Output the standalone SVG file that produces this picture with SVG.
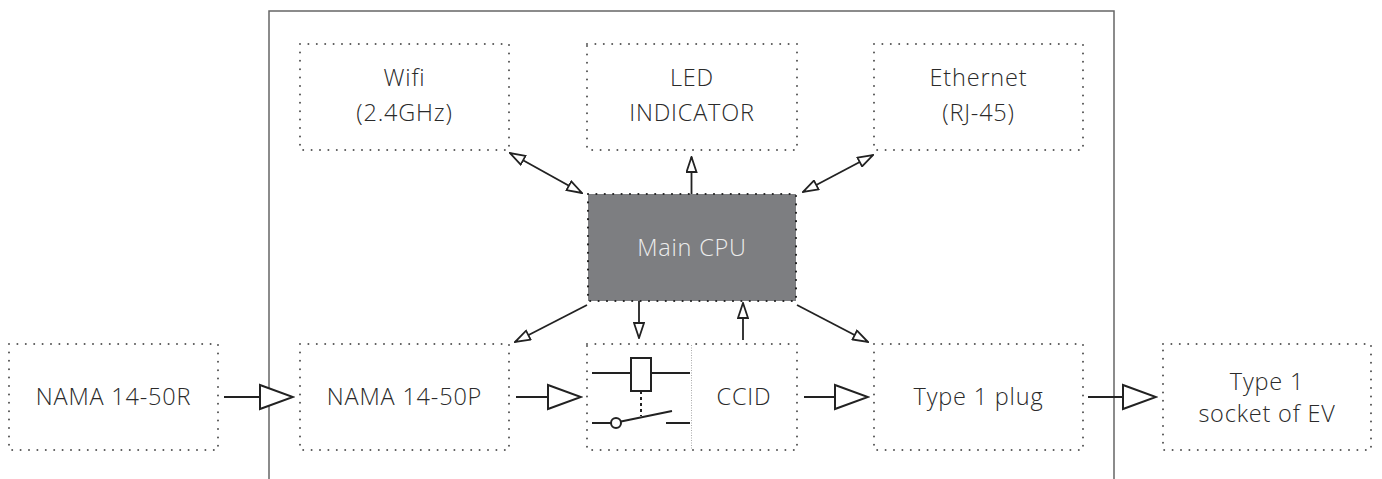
<svg xmlns="http://www.w3.org/2000/svg" width="1382" height="479" viewBox="0 0 1382 479">
<defs>
<style>
.box{fill:none;stroke:#555;stroke-width:2;stroke-dasharray:0 8.4;stroke-linecap:round}
.cpu{fill:#7d7e81;stroke:#222;stroke-width:2.2;stroke-dasharray:0 8.4;stroke-linecap:round}
.t{font-family:"Open Sans","Liberation Sans",sans-serif;font-weight:300;font-size:23.5px;letter-spacing:0.8px;fill:#2a2a2a;text-anchor:middle}
.tw{fill:#ececec}
.c{fill:none;stroke:#222;stroke-width:1.8}
.sym{fill:none;stroke:#222;stroke-width:2}
</style>
<marker id="s" viewBox="0 0 17 12" refX="16" refY="6" markerWidth="17" markerHeight="12" markerUnits="userSpaceOnUse" orient="auto-start-reverse">
<path d="M1,1 L16,6 L1,11 Z" fill="#fff" stroke="#222" stroke-width="1.8"/>
</marker>
<marker id="b" viewBox="0 0 36 28" refX="34" refY="14" markerWidth="36" markerHeight="28" markerUnits="userSpaceOnUse" orient="auto">
<path d="M1,2 L34,14 L1,26 Z" fill="#fff" stroke="#222" stroke-width="2"/>
</marker>
</defs>
<rect width="1382" height="479" fill="#fff"/>
<path d="M269,479 V11 H1114 V479" fill="none" stroke="#666" stroke-width="1.5"/>

<g id="wifi"><rect class="box" x="300" y="44" width="209" height="106"/><text class="t" x="404.5" y="86">Wifi</text><text class="t" x="404.5" y="121">(2.4GHz)</text></g>
<g id="led"><rect class="box" x="587" y="44" width="210" height="106"/><text class="t" x="692" y="86">LED</text><text class="t" x="692" y="121">INDICATOR</text></g>
<g id="ethernet"><rect class="box" x="874" y="44" width="209" height="106"/><text class="t" x="978.5" y="86">Ethernet</text><text class="t" x="978.5" y="121">(RJ-45)</text></g>
<g id="cpu"><rect class="cpu" x="588" y="194" width="208" height="107"/><text class="t tw" x="692" y="256">Main CPU</text></g>
<g id="nama-r"><rect class="box" x="9" y="344" width="209" height="106"/><text class="t" x="113.5" y="405">NAMA 14-50R</text></g>
<g id="nama-p"><rect class="box" x="300" y="344" width="209" height="106"/><text class="t" x="404.5" y="405">NAMA 14-50P</text></g>
<g id="ccid"><rect class="box" x="587" y="344" width="210" height="106"/>
<line x1="691.5" y1="345" x2="691.5" y2="450" stroke="#aaa" stroke-width="1" stroke-dasharray="1 1.5"/>
<path class="sym" d="M592,373 H631 M651,373 H690 M592,423 H611 M621,421.5 L672,411 M666,423 H690"/>
<rect class="sym" x="631" y="358" width="20" height="33" fill="#fff"/>
<line x1="641" y1="391" x2="641" y2="416" stroke="#222" stroke-width="2" stroke-dasharray="3 3"/>
<circle class="sym" cx="616" cy="423" r="5" fill="#fff"/>
<text class="t" x="744" y="405">CCID</text></g>
<g id="plug"><rect class="box" x="874" y="344" width="209" height="106"/><text class="t" x="978.5" y="405">Type 1 plug</text></g>
<g id="socket"><rect class="box" x="1163" y="344" width="208" height="106"/><text class="t" x="1267" y="390">Type 1</text><text class="t" x="1267" y="422">socket of EV</text></g>

<g id="connectors">
<line class="c" x1="510" y1="153" x2="582" y2="193" marker-start="url(#s)" marker-end="url(#s)"/>
<line class="c" x1="691.5" y1="194" x2="691.5" y2="157" marker-end="url(#s)"/>
<line class="c" x1="803" y1="192" x2="873" y2="155" marker-start="url(#s)" marker-end="url(#s)"/>
<line class="c" x1="587" y1="305" x2="515" y2="342" marker-end="url(#s)"/>
<line class="c" x1="797" y1="305" x2="868" y2="342" marker-end="url(#s)"/>
<line class="c" x1="639" y1="301" x2="639" y2="338" marker-end="url(#s)"/>
<line class="c" x1="743" y1="340" x2="743" y2="303" marker-end="url(#s)"/>
<line class="c" x1="224" y1="397" x2="293" y2="397" marker-end="url(#b)"/>
<line class="c" x1="516" y1="397" x2="581" y2="397" marker-end="url(#b)"/>
<line class="c" x1="804" y1="397" x2="868" y2="397" marker-end="url(#b)"/>
<line class="c" x1="1088" y1="397" x2="1156" y2="397" marker-end="url(#b)"/>
</g>
</svg>
